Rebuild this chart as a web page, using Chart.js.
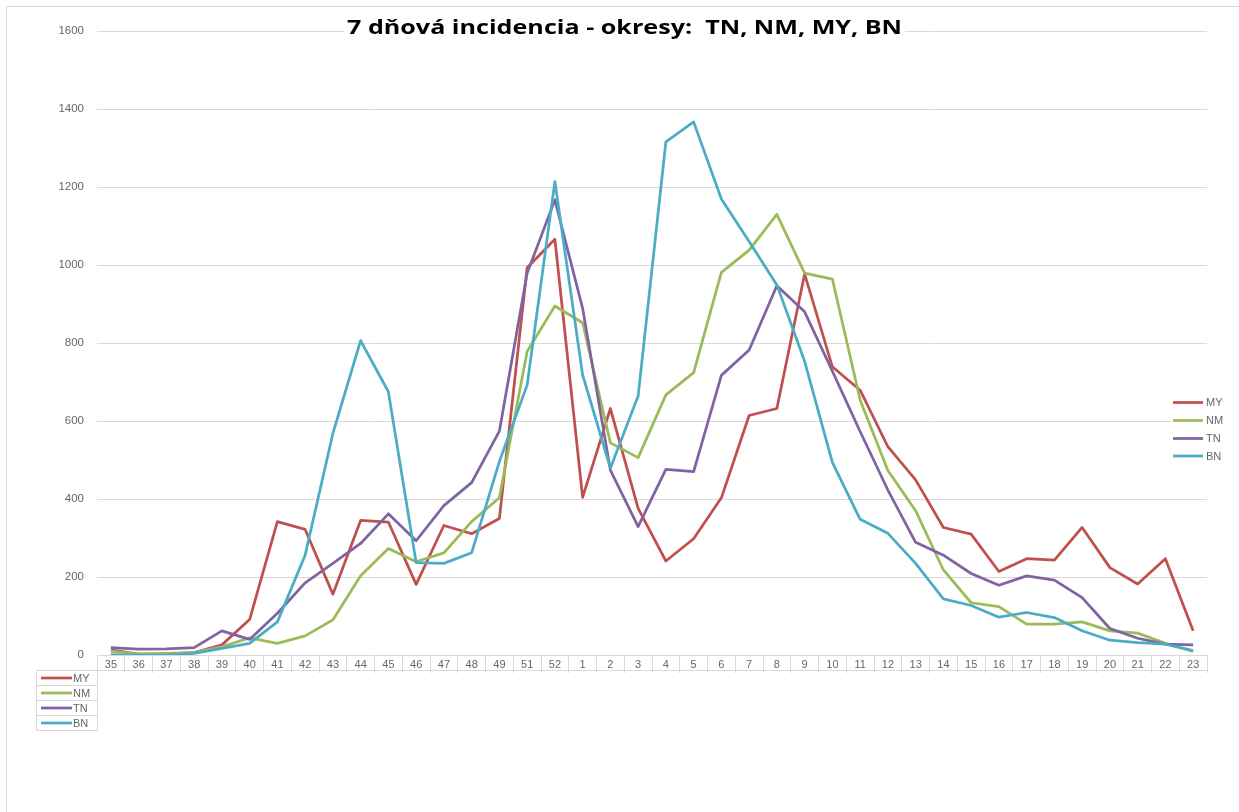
<!DOCTYPE html>
<html>
<head>
<meta charset="utf-8">
<script src="https://cdn.jsdelivr.net/npm/chart.js@4/dist/chart.umd.min.js"></script>
<style>
html,body{margin:0;padding:0;background:#fff;}
canvas{display:block;}
</style>
</head>
<body>
<canvas id="c" width="1239" height="812"></canvas>
<script>
// ---- data ----
const chartTitle = '7 dňová incidencia - okresy:  TN, NM, MY, BN';
const weeks = ['35','36','37','38','39','40','41','42','43','44','45','46','47','48','49','51','52',
  '1','2','3','4','5','6','7','8','9','10','11','12','13','14','15','16','17','18','19','20','21','22','23'];
const seriesNames = ['MY','NM','TN','BN'];
const MY = [13,2,2,6,26,91,342,322,156,345,341,181,332,311,350,993,1066,
  404,632,376,241,298,403,614,632,977,739,679,534,449,327,310,214,247,243,327,224,182,247,62];
const NM = [10,2,4,7,21,44,30,49,90,203,273,239,262,342,403,778,895,
  852,544,506,667,724,981,1038,1130,979,964,654,473,370,218,134,124,79,79,85,62,56,30,9];
const TN = [19,15,16,19,62,40,107,185,235,286,362,293,383,442,574,979,1167,
  889,474,329,476,470,717,782,947,880,728,573,423,289,256,209,179,203,192,147,68,43,28,26];
const BN = [1,0,0,4,17,30,85,256,568,806,675,237,235,262,496,692,1214,
  718,479,664,1316,1367,1169,1060,949,753,494,348,312,235,144,127,97,109,96,62,38,32,28,11];
const yMin = 0, yMax = 1600, yStep = 200;
const seriesColors = ['#C0504D','#9BBB59','#8064A2','#4BACC6'];
const seriesData = [MY, NM, TN, BN];

const textColor = '#666666';
const gridColor = '#d9d9d9';
const baseFont = '"Liberation Sans", Arial, sans-serif';
const titleFont = '"Open Sans", "Noto Sans", sans-serif';

const decor = {
  id: 'decor',
  beforeDraw(chart) {
    const ctx = chart.ctx;
    ctx.save();
    ctx.fillStyle = '#fff';
    ctx.fillRect(0, 0, chart.width, chart.height);
    ctx.strokeStyle = gridColor;
    ctx.lineWidth = 1;
    ctx.beginPath();
    ctx.moveTo(6.5, chart.height);
    ctx.lineTo(6.5, 6.5);
    ctx.lineTo(chart.width, 6.5);
    ctx.stroke();
    ctx.restore();
  },
  afterDraw(chart) {
    const ctx = chart.ctx;
    const ca = chart.chartArea;
    ctx.save();
    // ----- data table header bottom line and legend key box -----
    ctx.strokeStyle = gridColor;
    ctx.lineWidth = 1;
    const rowTop = ca.bottom + 15;
    const rowH = 15;
    ctx.beginPath();
    ctx.moveTo(36, rowTop + 0.5);
    ctx.lineTo(ca.right, rowTop + 0.5);
    for (let i = 1; i <= seriesNames.length; i++) {
      ctx.moveTo(36, rowTop + i * rowH + 0.5);
      ctx.lineTo(ca.left + 1, rowTop + i * rowH + 0.5);
    }
    ctx.moveTo(36.5, rowTop);
    ctx.lineTo(36.5, rowTop + seriesNames.length * rowH);
    ctx.moveTo(Math.round(ca.left) + 0.5, ca.bottom);
    ctx.lineTo(Math.round(ca.left) + 0.5, rowTop + seriesNames.length * rowH);
    ctx.stroke();

    ctx.font = '11px ' + baseFont;
    ctx.textBaseline = 'middle';
    ctx.textAlign = 'left';
    seriesNames.forEach((n, i) => {
      const y = rowTop + i * rowH + rowH / 2 + 0.5;
      ctx.strokeStyle = seriesColors[i];
      ctx.lineWidth = 2.75;
      ctx.beginPath();
      ctx.moveTo(41, y);
      ctx.lineTo(72, y);
      ctx.stroke();
      ctx.fillStyle = textColor;
      ctx.fillText(n, 73, y + 0.5);
    });

    // ----- right legend -----
    ctx.fillStyle = '#fff';
    ctx.fillRect(1171, 394, 68, 70);
    const legY = [402.5, 420.5, 438.5, 456];
    seriesNames.forEach((n, i) => {
      ctx.strokeStyle = seriesColors[i];
      ctx.lineWidth = 2.75;
      ctx.beginPath();
      ctx.moveTo(1173, legY[i]);
      ctx.lineTo(1203, legY[i]);
      ctx.stroke();
      ctx.fillStyle = textColor;
      ctx.fillText(n, 1206, legY[i] + 0.5);
    });

    // ----- title -----
    const fs = 19.5;
    ctx.font = 'bold ' + fs + 'px ' + titleFont;
    const w = ctx.measureText(chartTitle).width;
    const targetW = 555;
    const sx = targetW / w;
    const cx = 624.5;
    ctx.fillStyle = '#fff';
    ctx.fillRect(cx - targetW / 2 - 3, 24, targetW + 6, 14);
    ctx.translate(cx, 34);
    ctx.scale(sx, 1);
    ctx.textAlign = 'center';
    ctx.textBaseline = 'alphabetic';
    ctx.fillStyle = '#000';
    ctx.fillText(chartTitle, 0, 0);
    ctx.restore();
  }
};

new Chart(document.getElementById('c'), {
  type: 'line',
  data: {
    labels: weeks,
    datasets: seriesNames.map((n, i) => ({
      label: n,
      data: seriesData[i],
      borderColor: seriesColors[i],
      backgroundColor: seriesColors[i],
      borderWidth: 2.75,
      pointRadius: 0,
      pointHoverRadius: 0,
      tension: 0,
      fill: false,
      borderJoinStyle: 'round',
      order: seriesNames.length - 1 - i
    }))
  },
  options: {
    responsive: false,
    animation: false,
    devicePixelRatio: 1,
    layout: { padding: { top: 31, right: 32, left: 0, bottom: 0 } },
    plugins: {
      legend: { display: false },
      title: { display: false },
      tooltip: { enabled: false }
    },
    scales: {
      x: {
        type: 'category',
        offset: true,
        grid: {
          offset: true,
          drawOnChartArea: false,
          drawTicks: true,
          tickLength: 18,
          color: gridColor,
          lineWidth: 1
        },
        border: { display: true, color: gridColor, width: 1 },
        ticks: {
          autoSkip: false,
          maxRotation: 0,
          minRotation: 0,
          padding: -15,
          color: textColor,
          font: { family: baseFont, size: 11 }
        },
        afterFit(scale) { scale.height = 157; }
      },
      y: {
        min: yMin,
        max: yMax,
        grid: { color: gridColor, lineWidth: 1, drawTicks: false },
        border: { display: false },
        ticks: {
          stepSize: yStep,
          padding: 13,
          color: textColor,
          font: { family: baseFont, size: 11.5 },
          callback: (v) => String(v)
        },
        afterFit(scale) { scale.width = 97; }
      }
    }
  },
  plugins: [decor]
});
</script>
</body>
</html>
